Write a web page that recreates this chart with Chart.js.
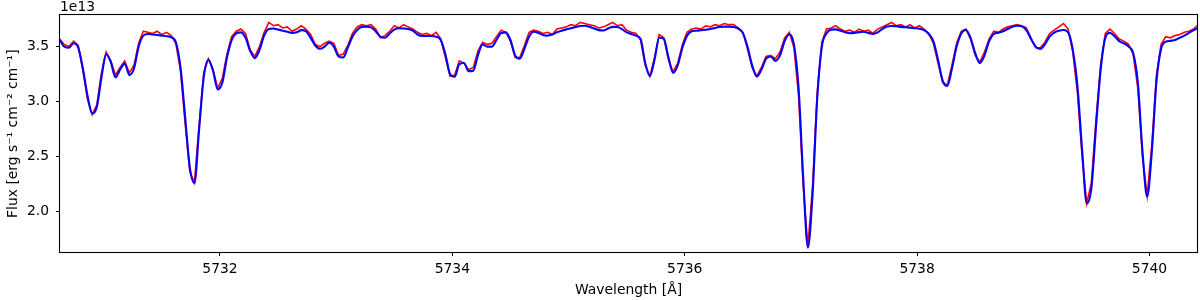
<!DOCTYPE html>
<html><head><meta charset="utf-8">
<script src="https://cdn.jsdelivr.net/npm/chart.js@4.4.0/dist/chart.umd.min.js"></script>
<style>html,body{margin:0;padding:0;background:#fff;}#wrap{width:1200px;height:300px;}</style>
</head><body><div id="wrap"><canvas id="c" width="1200" height="300"></canvas></div>
<script>
// Wavelength grid [Å]
const wavelengths = [
5730.62,5730.66,5730.70,5730.74,5730.78,5730.82,5730.86,5730.90,5730.94,5730.98,
5731.02,5731.06,5731.10,5731.14,5731.18,5731.22,5731.26,5731.30,5731.34,5731.38,5731.42,5731.46,5731.50,5731.54,5731.58,5731.62,5731.66,5731.70,5731.74,5731.78,5731.82,5731.86,5731.90,5731.94,5731.98,
5732.02,5732.06,5732.10,5732.14,5732.18,5732.22,5732.26,5732.30,5732.34,5732.38,5732.42,5732.46,5732.50,5732.54,5732.58,5732.62,5732.66,5732.70,5732.74,5732.78,5732.82,5732.86,5732.90,5732.94,5732.98,
5733.02,5733.06,5733.10,5733.14,5733.18,5733.22,5733.26,5733.30,5733.34,5733.38,5733.42,5733.46,5733.50,5733.54,5733.58,5733.62,5733.66,5733.70,5733.74,5733.78,5733.82,5733.86,5733.90,5733.94,5733.98,
5734.02,5734.06,5734.10,5734.14,5734.18,5734.22,5734.26,5734.30,5734.34,5734.38,5734.42,5734.46,5734.50,5734.54,5734.58,5734.62,5734.66,5734.70,5734.74,5734.78,5734.82,5734.86,5734.90,5734.94,5734.98,
5735.02,5735.06,5735.10,5735.14,5735.18,5735.22,5735.26,5735.30,5735.34,5735.38,5735.42,5735.46,5735.50,5735.54,5735.58,5735.62,5735.66,5735.70,5735.74,5735.78,5735.82,5735.86,5735.90,5735.94,5735.98,
5736.02,5736.06,5736.10,5736.14,5736.18,5736.22,5736.26,5736.30,5736.34,5736.38,5736.42,5736.46,5736.50,5736.54,5736.58,5736.62,5736.66,5736.70,5736.74,5736.78,5736.82,5736.86,5736.90,5736.94,5736.98,
5737.02,5737.06,5737.10,5737.14,5737.18,5737.22,5737.26,5737.30,5737.34,5737.38,5737.42,5737.46,5737.50,5737.54,5737.58,5737.62,5737.66,5737.70,5737.74,5737.78,5737.82,5737.86,5737.90,5737.94,5737.98,
5738.02,5738.06,5738.10,5738.14,5738.18,5738.22,5738.26,5738.30,5738.34,5738.38,5738.42,5738.46,5738.50,5738.54,5738.58,5738.62,5738.66,5738.70,5738.74,5738.78,5738.82,5738.86,5738.90,5738.94,5738.98,
5739.02,5739.06,5739.10,5739.14,5739.18,5739.22,5739.26,5739.30,5739.34,5739.38,5739.42,5739.46,5739.50,5739.54,5739.58,5739.62,5739.66,5739.70,5739.74,5739.78,5739.82,5739.86,5739.90,5739.94,5739.98,
5740.02,5740.06,5740.10,5740.14,5740.18,5740.22,5740.26,5740.30,5740.34,5740.38,5740.42
];

// Observed flux (red), units of 1e13 erg s^-1 cm^-2 cm^-1
const fluxObserved = [
3.57,3.52,3.50,3.55,3.51,3.28,3.02,2.88,2.97,3.26,
3.45,3.37,3.24,3.31,3.37,3.26,3.33,3.53,3.64,3.63,3.62,3.64,3.61,3.63,3.60,3.53,3.28,2.80,2.36,2.26,2.78,3.26,3.39,3.29,3.12,
3.21,3.43,3.59,3.64,3.66,3.62,3.47,3.41,3.50,3.63,3.72,3.69,3.70,3.67,3.68,3.64,3.66,3.69,3.66,3.61,3.52,3.50,3.53,3.55,3.53,
3.42,3.43,3.51,3.62,3.68,3.70,3.69,3.70,3.66,3.58,3.60,3.64,3.69,3.67,3.70,3.68,3.66,3.63,3.61,3.62,3.60,3.63,3.57,3.40,3.23,
3.24,3.37,3.35,3.29,3.31,3.46,3.54,3.52,3.53,3.59,3.65,3.63,3.55,3.40,3.40,3.51,3.63,3.65,3.64,3.62,3.63,3.61,3.66,3.67,3.68,
3.70,3.69,3.72,3.71,3.70,3.69,3.67,3.68,3.70,3.72,3.69,3.70,3.65,3.63,3.62,3.56,3.33,3.23,3.40,3.61,3.58,3.38,3.27,3.35,3.52,
3.63,3.66,3.67,3.66,3.69,3.68,3.70,3.69,3.71,3.70,3.70,3.67,3.63,3.48,3.31,3.23,3.31,3.41,3.42,3.39,3.45,3.58,3.63,3.49,3.05,
2.22,1.68,2.22,3.08,3.54,3.66,3.67,3.69,3.66,3.64,3.65,3.63,3.66,3.64,3.65,3.62,3.66,3.68,3.70,3.72,3.69,3.70,3.68,3.70,3.67,
3.69,3.66,3.62,3.53,3.35,3.17,3.15,3.33,3.53,3.64,3.66,3.57,3.42,3.36,3.45,3.57,3.64,3.63,3.66,3.68,3.69,3.70,3.69,3.67,3.58,
3.49,3.49,3.54,3.62,3.65,3.68,3.71,3.66,3.45,3.08,2.50,2.07,2.26,2.84,3.34,3.62,3.66,3.62,3.57,3.55,3.52,3.43,3.12,2.49,2.14,
2.60,3.24,3.52,3.59,3.58,3.60,3.61,3.63,3.64,3.66,3.70
];

// Model flux (blue), units of 1e13
const fluxModel = [
3.56,3.50,3.49,3.53,3.49,3.30,3.05,2.89,2.95,3.22,
3.43,3.36,3.22,3.29,3.345,3.24,3.30,3.50,3.60,3.615,3.61,3.605,3.60,3.595,3.585,3.54,3.31,2.86,2.40,2.255,2.74,3.22,3.38,3.28,3.11,
3.17,3.40,3.56,3.62,3.63,3.58,3.46,3.395,3.47,3.60,3.66,3.665,3.655,3.645,3.635,3.625,3.63,3.65,3.64,3.58,3.51,3.48,3.50,3.535,3.50,
3.41,3.40,3.49,3.59,3.65,3.68,3.682,3.675,3.64,3.59,3.58,3.62,3.655,3.667,3.665,3.66,3.645,3.61,3.597,3.597,3.597,3.59,3.56,3.43,3.25,
3.225,3.34,3.35,3.275,3.28,3.42,3.52,3.50,3.50,3.56,3.625,3.63,3.56,3.42,3.39,3.48,3.59,3.635,3.625,3.605,3.60,3.61,3.63,3.645,3.657,
3.667,3.678,3.688,3.69,3.68,3.665,3.65,3.647,3.665,3.68,3.678,3.66,3.63,3.615,3.60,3.57,3.35,3.23,3.38,3.58,3.57,3.40,3.26,3.33,3.49,
3.60,3.64,3.645,3.65,3.653,3.66,3.67,3.678,3.682,3.682,3.678,3.665,3.625,3.50,3.33,3.227,3.29,3.39,3.41,3.37,3.42,3.55,3.613,3.52,3.12,
2.30,1.667,2.15,3.02,3.50,3.62,3.655,3.657,3.645,3.632,3.622,3.625,3.632,3.635,3.625,3.615,3.63,3.66,3.683,3.688,3.685,3.68,3.676,3.673,3.668,
3.662,3.65,3.615,3.55,3.38,3.19,3.14,3.30,3.50,3.62,3.652,3.58,3.44,3.35,3.42,3.55,3.615,3.627,3.64,3.66,3.68,3.69,3.685,3.65,3.57,
3.50,3.479,3.52,3.59,3.628,3.645,3.652,3.63,3.47,3.14,2.56,2.07,2.21,2.77,3.29,3.58,3.625,3.595,3.55,3.53,3.50,3.44,3.17,2.54,2.131,
2.54,3.18,3.48,3.545,3.552,3.56,3.58,3.60,3.625,3.65,3.67
];

const xTickValues = [5732, 5734, 5736, 5738, 5740];
const yTickValues = [2.0, 2.5, 3.0, 3.5];
const xLimits = [5730.623, 5740.409];
const yLimits = [1.627, 3.785];
const offsetLabel = '1e13';
const xTitle = 'Wavelength [Å]';
const yTitle = 'Flux [erg s⁻¹ cm⁻² cm⁻¹]';

const FONT = "'DejaVu Sans', sans-serif";
const FS = 13.9;

const framePlugin = {
  id: 'frame',
  afterDraw(chart) {
    const {ctx, chartArea: a} = chart;
    ctx.save();
    ctx.strokeStyle = '#000';
    ctx.lineWidth = 1.1;
    ctx.strokeRect(Math.round(a.left) - 0.5, Math.round(a.top) - 0.5,
                   Math.round(a.right - a.left) + 1, Math.round(a.bottom - a.top) + 1);
    ctx.fillStyle = '#000';
    ctx.font = FS + 'px ' + FONT;
    ctx.textAlign = 'left';
    ctx.textBaseline = 'alphabetic';
    ctx.fillText(offsetLabel, a.left, a.top - 4);
    ctx.restore();
  }
};

const toXY = (ys) => wavelengths.map((w, i) => ({x: w, y: ys[i]}));

new Chart(document.getElementById('c').getContext('2d'), {
  type: 'line',
  data: {
    datasets: [
      {label: 'Observed', data: toXY(fluxObserved), borderColor: '#ff0000', borderWidth: 1.6,
       pointRadius: 0, tension: 0, order: 2},
      {label: 'Model', data: toXY(fluxModel), borderColor: '#0000ff', borderWidth: 2.1,
       pointRadius: 0, cubicInterpolationMode: 'monotone', order: 1}
    ]
  },
  options: {
    responsive: false, animation: false, devicePixelRatio: 1,
    layout: {padding: {top: 15, right: 3, left: 0, bottom: 0}},
    plugins: {legend: {display: false}, tooltip: {enabled: false}},
    scales: {
      x: {
        type: 'linear', min: xLimits[0], max: xLimits[1],
        afterBuildTicks: s => { s.ticks = xTickValues.map(v => ({value: v})); },
        afterFit: s => { s.height = 48; },
        grid: {drawOnChartArea: false, drawTicks: true, tickLength: 4, color: '#000', tickColor: '#000', lineWidth: 1},
        border: {display: false},
        ticks: {color: '#000', font: {family: FONT, size: FS}, padding: 5, maxRotation: 0, autoSkip: false,
                callback: v => String(v)},
        title: {display: true, text: xTitle, color: '#000', font: {family: FONT, size: FS},
                padding: {top: 0, bottom: 1}}
      },
      y: {
        type: 'linear', min: yLimits[0], max: yLimits[1],
        afterBuildTicks: s => { s.ticks = yTickValues.map(v => ({value: v})); },
        afterFit: s => { s.width = 60; },
        grid: {drawOnChartArea: false, drawTicks: true, tickLength: 4, color: '#000', tickColor: '#000', lineWidth: 1},
        border: {display: false},
        ticks: {color: '#000', font: {family: FONT, size: FS}, padding: 7, autoSkip: false,
                callback: v => Number(v).toFixed(1)},
        title: {display: true, text: yTitle, color: '#000', font: {family: FONT, size: FS},
                padding: {top: 5, bottom: 0}}
      }
    }
  },
  plugins: [framePlugin]
});
</script>
</body></html>
